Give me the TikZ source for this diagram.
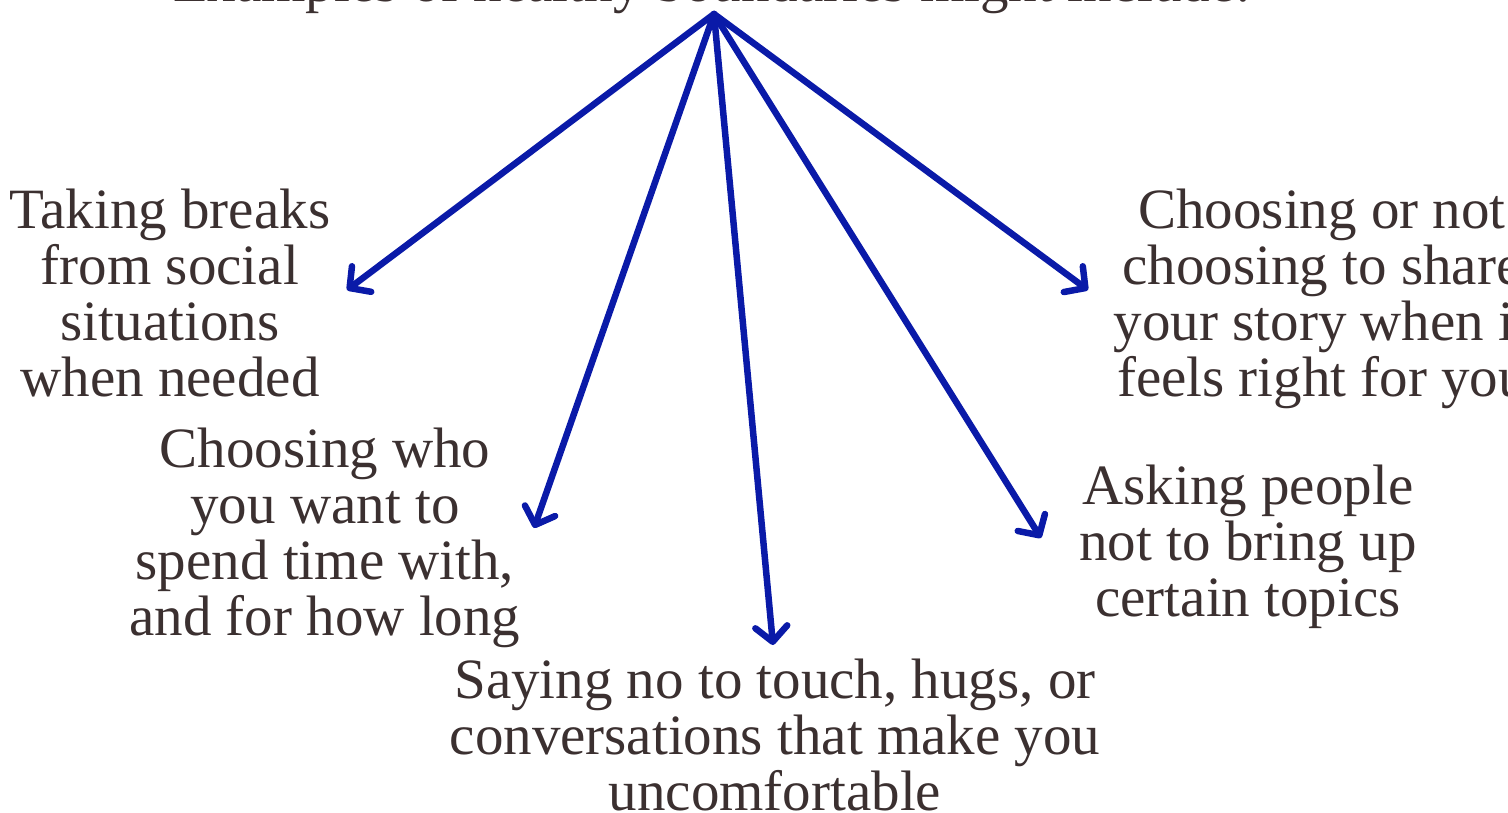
\documentclass[tikz,border=0pt]{standalone}
\usepackage{fontspec}
\setmainfont{Liberation Serif}
\usetikzlibrary{arrows.meta}
\definecolor{txt}{HTML}{3B3030}
\definecolor{arr}{HTML}{0A1AA8}
\begin{document}
\begin{tikzpicture}[x=1pt,y=-1pt,
  lbl/.style={text=txt,align=center,inner sep=0pt,font=\fontsize{57}{56}\selectfont},
  conn/.style={draw=arr,line width=6.5pt,line cap=round,
    -{Straight Barb[length=15pt,width=32pt,line width=6.5pt,round]}}]
\useasboundingbox (0,0) rectangle (1508,813);
\node[lbl,anchor=base] (title) at (712,2) {Examples of healthy boundaries might include:};
\coordinate (src) at (714,14);
\node[lbl,anchor=base] (a) at (170,396) {Taking breaks\\from social\\situations\\when needed};
\node[lbl,anchor=base] (b) at (325,635) {Choosing who\\you want to\\spend time with,\\and for how long};
\node[lbl,anchor=base] (c) at (775,810) {Saying no to touch, hugs, or\\conversations that make you\\uncomfortable};
\node[lbl,anchor=base] (d) at (1248,616) {Asking people\\not to bring up\\certain topics};
\node[lbl,anchor=base] (e) at (1322,396) {Choosing or not\\choosing to share\\your story when it\\feels right for you};
\coordinate (ta) at (347,290);
\coordinate (tb) at (534,528);
\coordinate (tc) at (773,645);
\coordinate (td) at (1041,538);
\coordinate (te) at (1088,290);
\draw[conn] (src) -- (ta);
\draw[conn] (src) -- (tb);
\draw[conn] (src) -- (tc);
\draw[conn] (src) -- (td);
\draw[conn] (src) -- (te);
\end{tikzpicture}
\end{document}
